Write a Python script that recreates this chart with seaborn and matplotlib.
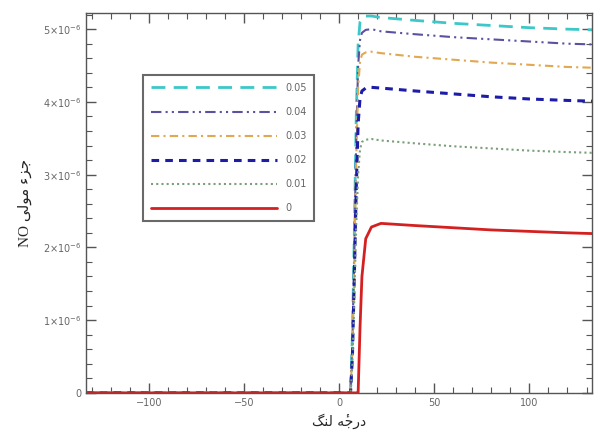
import matplotlib
matplotlib.use("Agg")
import matplotlib.pyplot as plt
from matplotlib.ticker import MultipleLocator, FuncFormatter
import seaborn as sns
import pandas as pd

sns.set_style("ticks")
plt.rcParams['font.family'] = ['DejaVu Sans']
plt.rcParams['mathtext.fontset'] = 'dejavusans'

# crank angle (degrees)
crank = [-133, 6, 7, 8, 9, 10, 11, 12, 14, 17, 22, 40, 60, 80, 100, 120, 133]
# NO mole fraction (x1e-6) per series label
no_005 = [0, 0, 0.8, 2.2, 3.8, 4.8, 5.10, 5.15, 5.18, 5.18, 5.16, 5.12, 5.08, 5.05, 5.02, 5.00, 4.99]
no_004 = [0, 0, 0.7, 2.0, 3.5, 4.5, 4.85, 4.95, 4.99, 5.00, 4.97, 4.93, 4.89, 4.86, 4.83, 4.80, 4.79]
no_003 = [0, 0, 0.6, 1.8, 3.2, 4.2, 4.55, 4.65, 4.68, 4.69, 4.67, 4.62, 4.58, 4.54, 4.51, 4.48, 4.47]
no_002 = [0, 0, 0.5, 1.6, 2.8, 3.7, 4.05, 4.15, 4.19, 4.20, 4.19, 4.15, 4.11, 4.07, 4.04, 4.02, 4.01]
no_001 = [0, 0, 0.4, 1.3, 2.3, 3.0, 3.35, 3.45, 3.48, 3.49, 3.47, 3.43, 3.39, 3.36, 3.33, 3.31, 3.30]
no_000 = [0, 0, 0, 0, 0, 0, 0.9, 1.6, 2.12, 2.28, 2.33, 2.30, 2.27, 2.24, 2.22, 2.20, 2.19]

labels = ['0.05', '0.04', '0.03', '0.02', '0.01', '0']
series = [no_005, no_004, no_003, no_002, no_001, no_000]

colors = ['#3cc8c8', '#5a52a0', '#e0a850', '#1c1ca8', '#7aa07a', '#d42020']
styles = [(0, (5, 3)), (0, (5, 2, 1, 2, 1, 2)), (0, (4, 2, 1, 2)), (0, (2.5, 2)), (0, (1, 1.5)), '-']
widths = [2.0, 1.5, 1.5, 2.2, 1.5, 2.0]

fig = plt.figure(figsize=(5.97, 4.38), dpi=100)
ax = fig.add_axes([0.144, 0.103, 0.848, 0.867])

for lab, vals, c, ls, lw in zip(labels, series, colors, styles, widths):
    df = pd.DataFrame({'x': crank, 'y': [v * 1e-6 for v in vals]})
    sns.lineplot(data=df, x='x', y='y', ax=ax, color=c, linestyle=ls, linewidth=lw, label=lab)

ax.set_xlim(-133, 133)
ax.set_ylim(0, 5.22e-6)
ax.xaxis.set_major_locator(MultipleLocator(50))
ax.xaxis.set_minor_locator(MultipleLocator(10))
ax.yaxis.set_major_locator(MultipleLocator(1e-6))
ax.yaxis.set_minor_locator(MultipleLocator(2e-7))

def yfmt(v, pos):
    n = int(round(v / 1e-6))
    if n == 0:
        return '0'
    return r'$%d{\times}10^{-6}$' % n

ax.yaxis.set_major_formatter(FuncFormatter(yfmt))
ax.tick_params(which='both', direction='in', top=True, right=True, colors='#555555',
               labelsize=7, labelcolor='#666666')
ax.tick_params(which='major', length=7, width=1)
ax.tick_params(which='minor', length=4, width=0.8)
for s in ax.spines.values():
    s.set_color('#555555')
    s.set_linewidth(1.0)

# x label: "درجهٔ لنگ" (visual-order presentation forms)
xlab = '\uFB93\uFEE8\uFEDF \uFEEA\u0654\uFE9F\uFEAD\uFEA9'
ax.set_xlabel(xlab, fontsize=10, family=['DejaVu Sans'], labelpad=4)
# y label: "جزء مولی NO"
ylab = 'NO \uFBFD\uFEDF\uFEEE\uFEE3 \uFE80\uFEB0\uFE9F'
ax.set_ylabel(ylab, fontsize=11, family=['Liberation Serif', 'DejaVu Sans'], labelpad=8)

leg = ax.legend(loc='upper left', bbox_to_anchor=(0.113, 0.837), handlelength=13,
                fontsize=7, frameon=True, fancybox=False, borderpad=0.8,
                labelspacing=1.45, handletextpad=0.8, borderaxespad=0)
leg.get_frame().set_edgecolor('#444444')
leg.get_frame().set_linewidth(1.5)
for t in leg.get_texts():
    t.set_color('#666666')

fig.savefig('out.png', dpi=100)
